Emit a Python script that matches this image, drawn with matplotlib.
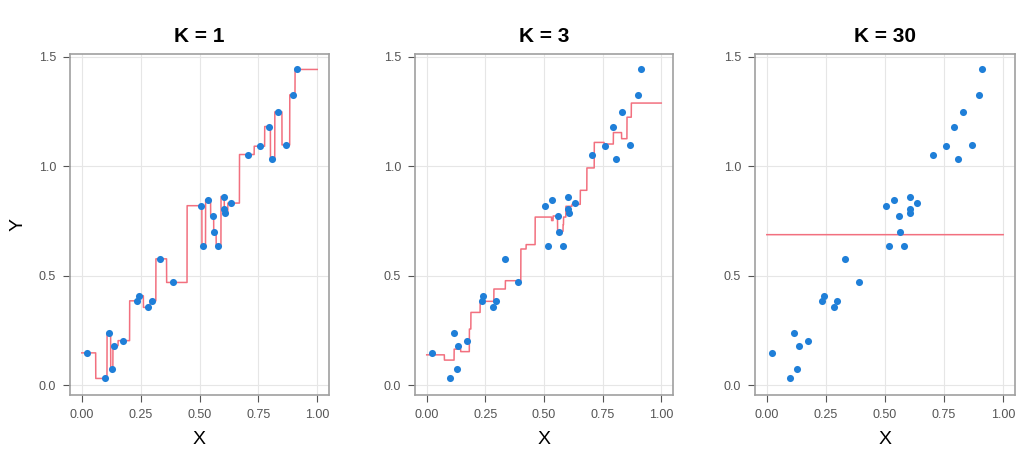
import numpy as np
import matplotlib
matplotlib.use("Agg")
import matplotlib.pyplot as plt

# Dati (30 osservazioni)
x_vals = [0.021, 0.098, 0.116, 0.129, 0.135, 0.173, 0.234, 0.241, 0.283, 0.297,
          0.332, 0.388, 0.506, 0.515, 0.536, 0.558, 0.562, 0.579, 0.604, 0.604,
          0.607, 0.634, 0.705, 0.759, 0.794, 0.808, 0.832, 0.868, 0.899, 0.912]
y_vals = [0.147, 0.030, 0.237, 0.075, 0.180, 0.203, 0.385, 0.408, 0.355, 0.385,
          0.577, 0.469, 0.820, 0.637, 0.847, 0.772, 0.700, 0.637, 0.862, 0.805,
          0.785, 0.832, 1.054, 1.092, 1.182, 1.032, 1.249, 1.098, 1.327, 1.443]
k_values = [1, 3, 30]
x_ticks = [0.0, 0.25, 0.5, 0.75, 1.0]
x_ticklabels = ["0.00", "0.25", "0.50", "0.75", "1.00"]
y_ticks = [0.0, 0.5, 1.0, 1.5]
y_ticklabels = ["0.0", "0.5", "1.0", "1.5"]

plt.rcParams["font.family"] = ["Liberation Sans", "DejaVu Sans"]

x = np.array(x_vals)
y = np.array(y_vals)
griglia = np.linspace(0, 1, 2001)


# Previsione KNN sulla griglia
def knn(k):
    pred = []
    for g in griglia:
        idx = np.argsort(np.abs(x - g), kind="stable")[:k]
        pred.append(y[idx].mean())
    return np.array(pred)


fig = plt.figure(figsize=(10.19, 4.5), dpi=100)
lefts = [70, 415, 755]
widths = [259, 258, 260]

for i, k in enumerate(k_values):
    ax = fig.add_axes([lefts[i] / 1019, 55 / 450, widths[i] / 1019, 341 / 450])
    ax.plot(griglia, knn(k), color="#f2707f", lw=1.1, zorder=2)
    ax.scatter(x, y, s=26, color="#1f7fd8", zorder=3, linewidths=0)
    ax.set_xlim(-0.05, 1.05)
    lo, hi = y.min(), y.max()
    span = hi - lo
    ax.set_ylim(lo - 0.05 * span - 0.005, hi + 0.05 * span)
    ax.set_xticks(x_ticks)
    ax.set_xticklabels(x_ticklabels)
    ax.set_yticks(y_ticks)
    ax.set_yticklabels(y_ticklabels)
    ax.grid(True, color="#e6e6e6", lw=0.8)
    ax.set_axisbelow(True)
    for s in ax.spines.values():
        s.set_color("#a0a0a0")
        s.set_linewidth(1.2)
    ax.tick_params(length=5, color="#555555", labelsize=9, labelcolor="#555555", pad=5)
    ax.set_title("K = %d" % k, fontsize=15, fontweight="bold", pad=9)
    ax.set_xlabel("X", fontsize=14, labelpad=7)
    if i == 0:
        ax.set_ylabel("Y", fontsize=14, labelpad=9)

fig.savefig("out.png", dpi=100)
